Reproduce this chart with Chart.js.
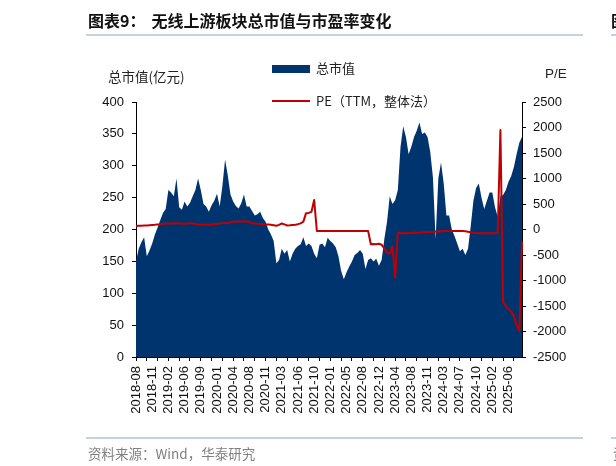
<!DOCTYPE html>
<html><head><meta charset="utf-8">
<script src="https://cdn.jsdelivr.net/npm/chart.js@4.4.1/dist/chart.umd.min.js"></script>
<style>
html,body{margin:0;padding:0;background:#fff;}
#wrap{position:relative;width:616px;height:466px;overflow:hidden;font-family:"Noto Sans CJK SC","Liberation Sans",sans-serif;}
.abs{position:absolute;white-space:nowrap;}
canvas{position:absolute;left:0;top:0;}
.hr{position:absolute;height:2px;background:#C3D2E1;}
</style></head><body>
<div id="wrap">
<canvas id="c" width="616" height="466" style="width:616px;height:466px"></canvas>
<div class="abs" style="left:88px;top:11px;font-size:16px;line-height:18px;font-weight:bold;color:#111;">图表9：<span style="margin-left:6px">无线上游板块总市值与市盈率变化</span></div>
<div class="hr" style="left:86px;top:34px;width:497px;"></div>
<div class="abs" style="left:611px;top:11px;font-size:16px;line-height:18px;font-weight:bold;color:#111;">图</div>
<div class="hr" style="left:611px;top:34px;width:5px;"></div>
<div class="abs" style="left:108px;top:67px;font-size:13.5px;line-height:18px;color:#222;">总市值(亿元)</div>
<div class="abs" style="left:545px;top:65px;font-family:'Liberation Sans';font-size:13.5px;line-height:18px;color:#222;">P/E</div>
<div class="abs" style="left:272px;top:65px;width:38px;height:8px;background:#00346F;"></div>
<div class="abs" style="left:316px;top:59px;font-size:13px;line-height:18px;color:#222;">总市值</div>
<div class="abs" style="left:272px;top:99.5px;width:38px;height:2.5px;background:#C00000;"></div>
<div class="abs" style="left:316px;top:92px;font-size:13px;line-height:18px;color:#222;">PE（TTM，整体法）</div>
<div class="hr" style="left:86px;top:437px;width:497px;"></div>
<div class="hr" style="left:611px;top:437px;width:5px;"></div>
<div class="abs" style="left:88px;top:444px;font-size:13.5px;line-height:18px;color:#808080;">资料来源：Wind，华泰研究</div>
<div class="abs" style="left:613px;top:444px;font-size:13.5px;line-height:18px;color:#808080;">资</div>
</div>
<script>
// tick labels shown on the category axis (one every 6 points)
const tickLabels = ["2018-08","2018-11","2019-02","2019-06","2019-09","2020-01","2020-04","2020-08","2020-11","2021-03","2021-06","2021-10","2022-01","2022-05","2022-08","2022-12","2023-04","2023-08","2023-11","2024-03","2024-07","2024-10","2025-02","2025-06"];

// 总市值 (亿元), left axis
const marketCap = [
150,170,180,188,158,167,178,192,203,215,
226,232,262,258,252,280,235,231,244,236,
242,252,262,280,262,240,236,228,238,245,
256,236,268,310,285,255,244,237,233,241,
255,236,236,229,222,224,228,218,212,200,
192,182,147,152,170,162,168,150,162,170,
174,177,188,174,178,174,162,155,176,178,
172,187,182,178,172,158,135,122,133,142,
150,160,163,168,162,138,152,155,150,154,
143,152,185,212,252,240,246,262,330,362,
345,318,330,345,355,368,350,352,345,322,
282,185,280,305,272,222,222,200,190,178,
166,170,160,170,205,245,265,272,250,232,
245,258,258,235,220,252,254,262,275,284,
298,318,336,345];

// PE (TTM, 整体法), right axis
const peTTM = [
70,72,75,78,80,85,88,92,98,105,
115,118,120,118,122,125,120,118,115,120,
125,118,108,98,95,100,98,95,100,108,
112,115,125,130,120,140,150,155,155,158,
160,155,150,122,118,115,110,105,100,98,
95,85,75,90,118,100,78,82,88,95,
105,120,155,320,325,345,580,-29,-29,-28,
-30,-28,-30,-29,-28,-30,-29,-28,-30,-29,
-28,-30,-29,-28,-30,-29,-28,-290,-285,-290,
-280,-300,-370,-460,-470,-320,-944,-60,-75,-72,
-72,-70,-68,-65,-62,-60,-55,-52,-50,-48,
-45,-40,-35,-38,-30,-28,-28,-28,-28,-30,
-30,-30,-35,-45,-55,-65,-70,-72,-72,-70,
-72,-75,-75,-75,-75,1950,-1420,-1500,-1560,-1610,
-1700,-1880,-1990,-240];

const categories = marketCap.map((_, i) => (i % 6 === 0 ? tickLabels[i / 6] : ''));

const tickFont = { family: 'Liberation Sans', size: 13 };

new Chart(document.getElementById('c'), {
  type: 'line',
  data: {
    labels: categories,
    datasets: [
      {
        label: 'PE（TTM，整体法）',
        data: peTTM,
        yAxisID: 'y1',
        borderColor: '#C00000',
        borderWidth: 2,
        borderJoinStyle: 'round',
        pointRadius: 0,
        fill: false,
        tension: 0
      },
      {
        label: '总市值',
        data: marketCap,
        yAxisID: 'y',
        borderWidth: 0,
        borderColor: 'rgba(0,0,0,0)',
        backgroundColor: '#00346F',
        pointRadius: 0,
        fill: 'origin',
        tension: 0
      }
    ]
  },
  options: {
    responsive: false,
    animation: false,
    layout: { padding: { left: 90, right: 36, top: 102, bottom: 50 } },
    plugins: { legend: { display: false }, tooltip: { enabled: false } },
    scales: {
      x: {
        type: 'category',
        offset: false,
        ticks: {
          autoSkip: false, maxRotation: 90, minRotation: 90, padding: 5,
          color: '#111', font: tickFont,
          callback: function (v, i) { return categories[i]; }
        },
        grid: {
          display: true, drawOnChartArea: false, tickLength: 4,
          tickColor: (ctx) => (ctx.index % 4 === 0 ? '#000' : 'rgba(0,0,0,0)')
        },
        border: { display: true, color: '#000', width: 1 },
        afterFit: (s) => { s.height = 59; }
      },
      y: {
        position: 'left', min: 0, max: 400,
        ticks: { stepSize: 50, padding: 8, color: '#111', font: tickFont, callback: (v) => String(v) },
        grid: { drawOnChartArea: false, tickLength: 4, tickColor: '#000' },
        border: { display: true, color: '#000', width: 1 },
        afterFit: (s) => { s.width = 46; }
      },
      y1: {
        position: 'right', min: -2500, max: 2500,
        ticks: { stepSize: 500, padding: 7, color: '#111', font: tickFont, callback: (v) => String(v) },
        grid: { drawOnChartArea: false, tickLength: 4, tickColor: '#000' },
        border: { display: true, color: '#000', width: 1 },
        afterFit: (s) => { s.width = 58; }
      }
    }
  }
});
</script>
</body></html>
